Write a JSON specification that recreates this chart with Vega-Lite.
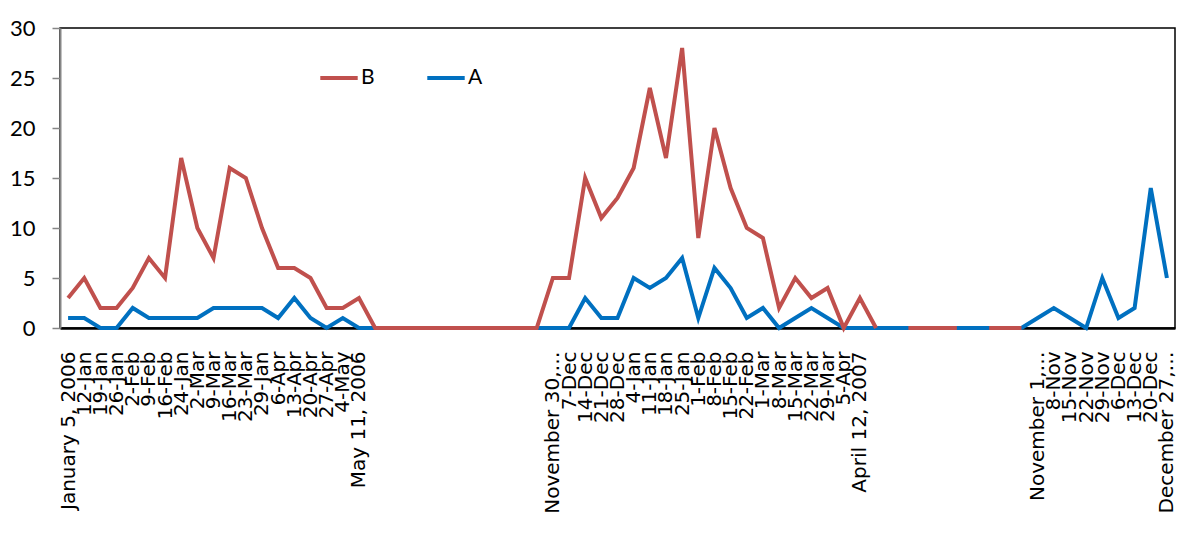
{
  "$schema": "https://vega.github.io/schema/vega-lite/v6.json",
  "width": 1115,
  "height": 300,
  "autosize": {"type": "none"},
  "padding": {"left": 60, "top": 28, "right": 25, "bottom": 205},
  "background": "white",
  "config": {
    "view": {"stroke": "black", "strokeWidth": 1.5},
    "font": "Lato"
  },
  "data": {
    "values": [
      {"week": "January 5, 2006", "A": 1, "B": 3},
      {"week": "12-Jan", "A": 1, "B": 5},
      {"week": "19-Jan", "A": 0, "B": 2},
      {"week": "26-Jan", "A": 0, "B": 2},
      {"week": "2-Feb", "A": 2, "B": 4},
      {"week": "9-Feb", "A": 1, "B": 7},
      {"week": "16-Feb", "A": 1, "B": 5},
      {"week": "24-Jan", "A": 1, "B": 17},
      {"week": "2-Mar", "A": 1, "B": 10},
      {"week": "9-Mar", "A": 2, "B": 7},
      {"week": "16-Mar", "A": 2, "B": 16},
      {"week": "23-Mar", "A": 2, "B": 15},
      {"week": "29-Jan", "A": 2, "B": 10},
      {"week": "6-Apr", "A": 1, "B": 6},
      {"week": "13-Apr", "A": 3, "B": 6},
      {"week": "20-Apr", "A": 1, "B": 5},
      {"week": "27-Apr", "A": 0, "B": 2},
      {"week": "4-May", "A": 1, "B": 2},
      {"week": "May 11, 2006", "A": 0, "B": 3},
      {"week": "gap19", "A": 0, "B": 0},
      {"week": "gap20", "A": 0, "B": 0},
      {"week": "gap21", "A": 0, "B": 0},
      {"week": "gap22", "A": 0, "B": 0},
      {"week": "gap23", "A": 0, "B": 0},
      {"week": "gap24", "A": 0, "B": 0},
      {"week": "gap25", "A": 0, "B": 0},
      {"week": "gap26", "A": 0, "B": 0},
      {"week": "gap27", "A": 0, "B": 0},
      {"week": "gap28", "A": 0, "B": 0},
      {"week": "gap29", "A": 0, "B": 0},
      {"week": "November 30,…", "A": 0, "B": 5},
      {"week": "7-Dec", "A": 0, "B": 5},
      {"week": "14-Dec", "A": 3, "B": 15},
      {"week": "21-Dec", "A": 1, "B": 11},
      {"week": "28-Dec", "A": 1, "B": 13},
      {"week": "4-Jan", "A": 5, "B": 16},
      {"week": "11-Jan", "A": 4, "B": 24},
      {"week": "18-Jan", "A": 5, "B": 17},
      {"week": "25-Jan", "A": 7, "B": 28},
      {"week": "1-Feb", "A": 1, "B": 9},
      {"week": "8-Feb", "A": 6, "B": 20},
      {"week": "15-Feb", "A": 4, "B": 14},
      {"week": "22-Feb", "A": 1, "B": 10},
      {"week": "1-Mar", "A": 2, "B": 9},
      {"week": "8-Mar", "A": 0, "B": 2},
      {"week": "15-Mar", "A": 1, "B": 5},
      {"week": "22-Mar", "A": 2, "B": 3},
      {"week": "29-Mar", "A": 1, "B": 4},
      {"week": "5-Apr", "A": 0, "B": 0},
      {"week": "April 12, 2007", "A": 0, "B": 3},
      {"week": "gap50", "A": 0, "B": 0},
      {"week": "gap51", "A": 0, "B": null},
      {"week": "gap52", "A": 0, "B": 0},
      {"week": "gap53", "A": 0, "B": 0},
      {"week": "gap54", "A": 0, "B": 0},
      {"week": "gap55", "A": 0, "B": 0},
      {"week": "gap56", "A": 0, "B": null},
      {"week": "gap57", "A": 0, "B": 0},
      {"week": "gap58", "A": 0, "B": 0},
      {"week": "gap59", "A": 0, "B": 0},
      {"week": "November 1,…", "A": 1, "B": null},
      {"week": "8-Nov", "A": 2, "B": null},
      {"week": "15-Nov", "A": 1, "B": null},
      {"week": "22-Nov", "A": 0, "B": null},
      {"week": "29-Nov", "A": 5, "B": null},
      {"week": "6-Dec", "A": 1, "B": null},
      {"week": "13-Dec", "A": 2, "B": null},
      {"week": "20-Dec", "A": 14, "B": null},
      {"week": "December 27,…", "A": 5, "B": null}
    ]
  },
  "encoding": {
    "x": {
      "field": "week",
      "type": "nominal",
      "sort": null,
      "scale": {"type": "point", "padding": 0.5},
      "axis": {
        "title": null,
        "labelAngle": 270,
        "labelOverlap": false,
        "labelBound": false,
        "labelFlush": false,
        "ticks": false,
        "grid": false,
        "domainColor": "black",
        "domainWidth": 2.5,
        "labelFont": "DejaVu Sans",
        "labelFontSize": 20,
        "labelColor": "black",
        "labelPadding": 23,
        "labelExpr": "slice(datum.value, 0, 3) == 'gap' ? '' : datum.value"
      }
    },
    "color": {
      "type": "nominal",
      "scale": {"domain": ["B", "A"], "range": ["#C0504D", "#0070C0"]},
      "legend": {
        "title": null,
        "orient": "none",
        "direction": "horizontal",
        "legendX": 258,
        "legendY": 29,
        "symbolType": "stroke",
        "symbolSize": 1400,
        "symbolStrokeWidth": 4,
        "labelFontSize": 21,
        "labelFont": "Lato",
        "labelColor": "black",
        "labelOffset": 1,
        "columnPadding": 44,
        "padding": 0
      }
    }
  },
  "layer": [
    {
      "mark": {"type": "line", "strokeWidth": 4, "invalid": "break-paths-show-domains"},
      "encoding": {
        "y": {
          "field": "A",
          "type": "quantitative",
          "scale": {"domain": [0, 30], "nice": false},
          "axis": {
            "title": null,
            "values": [0, 5, 10, 15, 20, 25, 30],
            "grid": false,
            "domainColor": "#868686",
            "domainWidth": 2,
            "tickColor": "#868686",
            "tickSize": 8,
            "tickWidth": 1.5,
            "labelFontSize": 22,
            "labelFont": "Lato",
            "labelColor": "black",
            "labelPadding": 17
          }
        },
        "color": {"datum": "A"}
      }
    },
    {
      "mark": {"type": "line", "strokeWidth": 4, "invalid": "break-paths-show-domains"},
      "encoding": {
        "y": {"field": "B", "type": "quantitative"},
        "color": {"datum": "B"}
      }
    }
  ]
}
